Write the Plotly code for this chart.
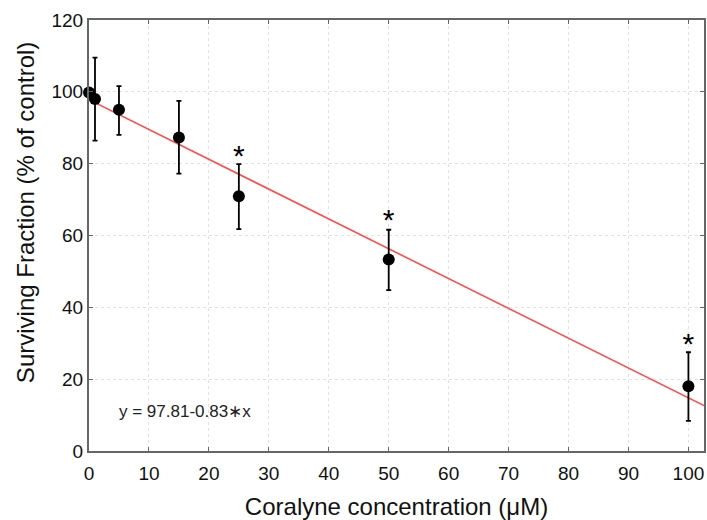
import plotly.graph_objects as go

conc = [0, 1, 5, 15, 25, 50, 100]
surv = [99.8, 98.0, 95.0, 87.3, 70.9, 53.3, 18.0]
err_hi = [0.0, 11.5, 6.6, 10.2, 9.0, 8.3, 9.5]
err_lo = [0.0, 11.6, 7.0, 10.1, 9.1, 8.5, 9.6]
sig_x = [25, 50, 100]
sig_y = [81.5, 63.5, 29.0]
intercept, slope = 97.81, -0.83
x_max = 102.6
tick_x = list(range(0, 101, 10))
tick_y = list(range(0, 121, 20))

font = "Liberation Sans, Arial, sans-serif"

fig = go.Figure()
fig.add_trace(go.Scatter(
    x=[0, x_max], y=[intercept, intercept + slope * x_max],
    mode="lines", line=dict(color="#ff4d4d", width=1.6), hoverinfo="skip"))
fig.add_trace(go.Scatter(
    x=conc, y=surv, mode="markers",
    marker=dict(color="black", size=12),
    error_y=dict(type="data", symmetric=False, array=err_hi, arrayminus=err_lo,
                 color="black", thickness=1.8, width=2.5),
    cliponaxis=False))
fig.add_trace(go.Scatter(
    x=sig_x, y=sig_y, mode="text", text=["*"] * len(sig_x),
    textfont=dict(size=30, color="black", family=font), cliponaxis=False))

fig.add_annotation(x=4.6, y=11, xref="x", yref="y", text="y = 97.81-0.83∗x",
                   showarrow=False, xanchor="left", yanchor="middle",
                   font=dict(size=17, color="#222", family=font))

# y-axis title (placed slightly above plot centre, as in the reference)
fig.add_annotation(x=-0.104, y=0.552, xref="paper", yref="paper",
                   text="Surviving Fraction (% of control)", textangle=-90,
                   showarrow=False, xanchor="center", yanchor="middle",
                   font=dict(size=24, color="#111", family=font))

axis_common = dict(
    showline=True, linecolor="#666", linewidth=2, mirror="ticks",
    ticks="inside", ticklen=4, tickcolor="#666",
    showgrid=True, gridcolor="#e2e2e2", griddash="dot", gridwidth=1,
    zeroline=False, tickfont=dict(size=19, color="#111", family=font))

fig.update_xaxes(range=[0, x_max], tickvals=tick_x, automargin=False,
                 ticklabelstandoff=4,
                 title=dict(text="Coralyne concentration (μM)",
                            font=dict(size=24, color="#111", family=font), standoff=20),
                 **axis_common)
fig.update_yaxes(range=[0, 120], tickvals=tick_y, automargin=False,
                 **axis_common)

fig.update_layout(
    width=707, height=520, showlegend=False,
    plot_bgcolor="white", paper_bgcolor="white",
    margin=dict(l=89, r=3, t=20, b=69))

fig.write_html("out.html")
